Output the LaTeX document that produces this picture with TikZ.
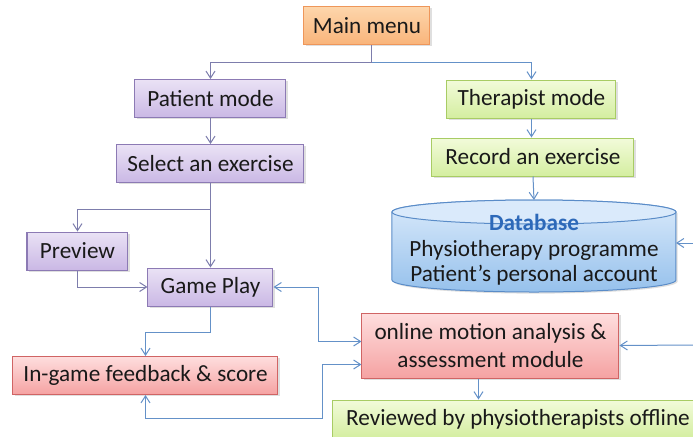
\documentclass[tikz,border=0pt]{standalone}
\usepackage{fontspec}
\setmainfont{Carlito}
\usetikzlibrary{arrows.meta,shadows}
\definecolor{mytext}{RGB}{25,25,25}
\definecolor{myorangetop}{RGB}{253,214,172}
\definecolor{myorangebot}{RGB}{249,180,122}
\definecolor{myorangeline}{RGB}{238,150,90}
\definecolor{mypurpletop}{RGB}{234,226,245}
\definecolor{mypurplebot}{RGB}{202,184,229}
\definecolor{mypurpleline}{RGB}{140,122,180}
\definecolor{mygreentop}{RGB}{242,251,218}
\definecolor{mygreenbot}{RGB}{212,238,160}
\definecolor{mygreenline}{RGB}{168,204,100}
\definecolor{myredtop}{RGB}{254,222,222}
\definecolor{myredbot}{RGB}{245,162,162}
\definecolor{myredline}{RGB}{208,100,100}
\definecolor{mybluetop}{RGB}{218,234,251}
\definecolor{mybluebot}{RGB}{150,193,236}
\definecolor{myblueline}{RGB}{90,140,200}
\definecolor{mydbtitle}{RGB}{45,105,185}
\definecolor{mylinkpurple}{RGB}{125,125,172}
\definecolor{mylinkblue}{RGB}{100,145,200}
\newcommand{\boxfont}{\fontsize{11.6}{12.7}\selectfont}
\tikzset{
    common/.style={draw, rectangle, inner sep=0pt, minimum height=19pt, align=center,
        text=mytext, font=\boxfont, line width=0.5pt,
        drop shadow={shadow xshift=0.8pt, shadow yshift=-0.8pt, opacity=0.25}},
    menubox/.style={common, draw=myorangeline, top color=myorangetop, bottom color=myorangebot},
    patientbox/.style={common, draw=mypurpleline, top color=mypurpletop, bottom color=mypurplebot},
    therapistbox/.style={common, draw=mygreenline, top color=mygreentop, bottom color=mygreenbot},
    analysisbox/.style={common, draw=myredline, top color=myredtop, bottom color=myredbot},
    link/.style={draw=mylinkpurple, line width=0.5pt, -{Straight Barb[length=3.5pt, width=4.5pt]}},
    bluelink/.style={link, draw=mylinkblue},
    bothlink/.style={bluelink, {Straight Barb[length=3.5pt, width=4.5pt]}-{Straight Barb[length=3.5pt, width=4.5pt]}}
}

\begin{document}
\begin{tikzpicture}[x=0.5pt, y=-0.5pt]
    \useasboundingbox (0,0) rectangle (693,436);

    \node[menubox, minimum width=63pt] (menu) at (367,25.5) {Main menu};

    \node[patientbox, minimum width=75.5pt] (patient) at (210.5,98.5) {Patient mode};
    \node[patientbox, minimum width=93.5pt] (select) at (210.5,163.5) {Select an exercise};
    \node[patientbox, minimum width=50.5pt] (preview) at (77.5,251) {Preview};
    \node[patientbox, minimum width=62.5pt] (gameplay) at (210.5,287) {Game Play};
    \node[analysisbox, minimum width=132.5pt] (feedback) at (145.5,375.5) {In-game feedback \& score};

    \node[therapistbox, minimum width=84.5pt] (therapist) at (531.5,99) {Therapist mode};
    \node[therapistbox, minimum width=101pt] (record) at (533,157) {Record an exercise};

    % database drum
    \shade[top color=mybluetop, bottom color=mybluebot, draw=myblueline, line width=0.5pt,
        drop shadow={shadow xshift=0.8pt, shadow yshift=-0.8pt, opacity=0.25}]
        (392,212) -- (392,280) arc (180:360:71pt and 6pt) -- (676,212) arc (0:180:71pt and 6pt) -- cycle;
    \draw[myblueline, line width=0.5pt, fill=mybluetop] (534,212) ellipse (71pt and 6pt);
    \coordinate (db-north) at (534,200);
    \coordinate (db-east) at (676,243);
    \node[align=center, text=mytext, font=\boxfont] (db) at (534,250)
        {{\bfseries\color{mydbtitle}Database}\\Physiotherapy programme\\Patient’s personal account};

    \node[analysisbox, minimum width=128.5pt, minimum height=32.5pt,
        font=\fontsize{11.6}{14}\selectfont] (analysis) at (490.5,345.5)
        {online motion analysis \&\\assessment module};
    \node[therapistbox, minimum width=185pt] (reviewed) at (518,419) {Reviewed by physiotherapists offline};

    \coordinate (dbfeed) at (693,243);
    \coordinate (analysisfeed) at (693,345);

    \draw[link] ([xshift=2.5pt]menu.south) -- ++(0,17) coordinate (split) -| (patient.north);
    \draw[bluelink] (split) -| (therapist.north);
    \draw[link] (patient) -- (select);
    \draw[link] (select.south) -- (gameplay.north);
    \draw[link] (select.south) ++(0,26) -| (preview.north);
    \draw[link] (preview.south) |- (gameplay.west);
    \draw[bluelink] (gameplay.south) -- ++(0,26) -| (feedback.north);
    \draw[bluelink] (therapist.south) -- (therapist.south |- record.north);
    \draw[bluelink] (record.south) -- (db-north);

    \draw[bothlink] (gameplay.east) -- ++(45,0) |- ([yshift=2pt]analysis.west);
    \draw[bothlink] (feedback.south) -- ++(0,23) -- ++(177,0) |- ([yshift=-9.5pt]analysis.west);
    \draw[bluelink] ([xshift=-6pt]analysis.south) -- ([xshift=-6pt]analysis.south |- reviewed.north);

    \draw[bluelink] (dbfeed) -- (db-east);
    \draw[bluelink] (analysisfeed) -- (analysis.east);
\end{tikzpicture}
\end{document}
